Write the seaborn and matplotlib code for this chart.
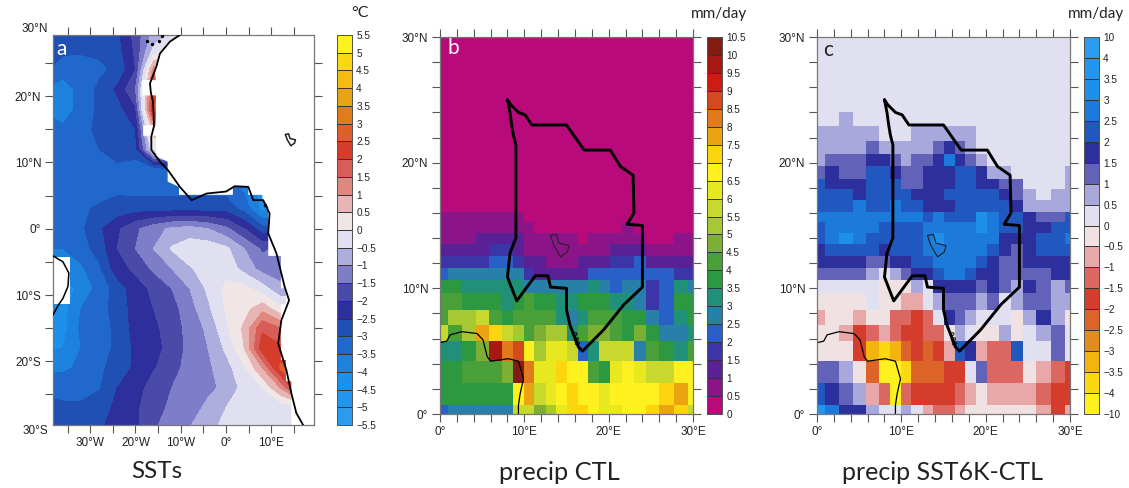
import numpy as np
import seaborn as sns
import matplotlib.pyplot as plt
from matplotlib.colors import BoundaryNorm, ListedColormap

# --- panel a: SST change on a coarse lon/lat grid
sst_lon = [-39, -36, -32, -28, -24, -20, -16, -12, -8, -4, 0, 4, 8, 12, 16, 20]
sst_lat = [30, 27, 24, 21, 18, 15, 12, 9, 6, 3, 0, -3, -6, -9, -12, -15, -18, -21, -24, -27, -30]
sst = [
    [-2.6, -2.6, -2.6, -2.6, -2.6, -1.8, -0.9, -0.5, -0.5, -0.5, -0.5, -0.5, -0.5, -0.5, -0.5, -0.5],
    [-2.8, -2.9, -2.9, -2.9, -2.7, -1.9, -0.4, -0.2, -0.2, -0.2, -0.2, -0.2, -0.2, -0.2, -0.2, -0.2],
    [-3.0, -3.25, -3.3, -3.1, -2.9, -2.0, 1.2, 2.0, 2.0, 2.0, 2.0, 2.0, 2.0, 2.0, 2.0, 2.0],
    [-3.6, -3.8, -3.3, -2.9, -2.4, -1.5, 2.0, 3.0, 3.0, 3.0, 3.0, 3.0, 3.0, 3.0, 3.0, 3.0],
    [-3.6, -3.8, -3.3, -2.9, -2.7, -2.1, 2.6, 3.0, 3.0, 3.0, 3.0, 3.0, 3.0, 3.0, 3.0, 3.0],
    [-3.3, -3.4, -3.3, -2.8, -2.6, -2.5, 0.8, 1.0, 1.0, 1.0, 1.0, 1.0, 1.0, 1.0, 1.0, 1.0],
    [-3.3, -3.3, -3.3, -3.0, -2.8, -2.7, 0.0, 0.5, 0.5, 0.5, 0.5, 0.5, 0.5, 0.5, 0.5, 0.5],
    [-3.4, -3.4, -3.4, -3.2, -3.1, -3.3, -3.3, -3.0, -3.0, -3.0, -3.0, -3.0, -3.0, -3.0, -3.0, -3.0],
    [-3.4, -3.4, -3.4, -3.3, -3.1, -3.2, -3.2, -3.2, -3.2, -3.2, -3.2, -3.6, -4.2, -4.2, -4.2, -4.2],
    [-3.3, -3.3, -3.1, -2.9, -2.8, -2.7, -2.7, -2.7, -2.7, -2.7, -2.7, -3.2, -4.2, -4.0, -4.0, -4.0],
    [-3.4, -3.3, -3.1, -2.6, -2.1, -1.6, -1.2, -0.9, -0.8, -1.0, -1.4, -2.0, -2.8, -3.0, -3.0, -3.0],
    [-3.5, -3.5, -3.2, -2.8, -2.0, -1.5, -1.0, -0.45, -0.2, -0.2, -0.4, -1.0, -1.6, -1.4, -1.4, -1.4],
    [-3.9, -3.9, -3.6, -3.1, -2.2, -1.9, -1.4, -1.0, -0.55, -0.3, -0.15, -0.7, -1.2, -1.2, -1.2, -1.2],
    [-4.2, -4.2, -3.9, -3.3, -2.8, -2.2, -1.9, -1.5, -1.0, -0.4, 0.1, 0.15, -0.3, -0.9, -1.0, -1.0],
    [-4.0, -4.2, -3.5, -3.2, -2.8, -2.3, -2.0, -1.7, -1.2, -0.6, 0.05, 0.3, 0.8, 0.1, 0.1, 0.1],
    [-4.3, -4.2, -3.4, -3.2, -2.9, -2.3, -2.1, -1.8, -1.3, -0.9, -0.1, 0.6, 1.9, 1.5, 1.0, 1.0],
    [-4.1, -4.0, -3.5, -3.2, -2.9, -2.4, -2.1, -1.9, -1.3, -1.0, -0.4, 0.5, 2.3, 2.1, 2.0, 2.0],
    [-3.6, -3.6, -3.4, -3.1, -2.8, -2.4, -2.05, -1.7, -1.3, -1.1, -0.7, -0.1, 1.0, 2.6, 3.0, 3.0],
    [-3.1, -3.2, -3.2, -3.05, -2.5, -2.2, -1.8, -1.5, -1.2, -1.1, -0.9, -0.3, 0.0, 1.0, 2.5, 2.5],
    [-2.9, -2.9, -2.9, -2.7, -2.4, -2.1, -1.7, -1.4, -1.2, -0.9, -0.5, -0.3, -0.3, -0.4, -0.2, -0.2],
    [-2.9, -2.8, -2.8, -2.6, -2.2, -2.1, -1.6, -1.1, -1.0, -0.6, -0.4, -0.3, -0.3, -0.4, -0.2, -0.2],
]
sst_levels = [-5.5, -5, -4.5, -4, -3.5, -3, -2.5, -2, -1.5, -1, -0.5, 0, 0.5, 1, 1.5, 2, 2.5, 3, 3.5, 4, 4.5, 5, 5.5]
sst_colors = ['#2b9bef', '#2296ee', '#1d90ea', '#1c82de', '#2068cc', '#2050b4', '#2c2f9c', '#4a4aa8', '#7e7ec8',
              '#aeaede', '#e0e0f0', '#f0e6e6', '#e8b5b5', '#e08880', '#d85c58', '#d43c2c', '#dc6028', '#e07c1c',
              '#e8a414', '#f4bc10', '#fcd810', '#fff020']

# coast and the blocky edge of the ocean mask (lon, lat)
mask_lon = [-9.9, -12.8, -15, -15.7, -15.5, -18.5, -18.5, -15.5, -15.5, -18.3, -18.3, -15.5, -15.4, -12.9, -12.9, -10.4,
            -10.4, 1.5, 1.5, 4.9, 4.9, 8, 8, 9.3, 9.3, 12.1, 12.1, 13.2, 13.2, 12.1, 12.1, 13.2, 13.2, 14.4, 14.4, 19.4, 19.4]
mask_lat = [29.2, 28, 26.2, 23.9, 22.4, 22.4, 20.1, 20.1, 15.6, 15.6, 14, 14, 10.9, 10.1, 7.1, 6.3,
            5.1, 5.1, 6.3, 6.4, 5.1, 5.1, 4.3, 3.3, -4.1, -4.1, -9, -9, -11.4, -11.4, -19.8, -19.8, -23, -23, -29.6, -29.6, 29.2]
coast_lon = [-10.2, -12.4, -14.6, -15.4, -16.8, -16.6, -16.1, -15.9, -16.5, -16.5, -14.6, -12.8, -10.2, -7.6, -4.3, -0.0,
             1.9, 4.9, 6, 8.2, 9.6, 9.3, 11.1, 12.9, 13.9, 12.2, 11.5, 13.3, 14.4, 15.5, 17]
coast_lat = [29.2, 28.2, 26.4, 24.4, 21.9, 20.5, 19, 15.5, 13.9, 11.9, 10.1, 8.8, 6.3, 4.3, 5.3, 5.6,
             6.4, 6.3, 4.3, 4.3, 2.3, -0.7, -3.7, -8.7, -10.8, -13.8, -17.3, -21.3, -24.8, -27.8, -29.6]
brazil_lon = [-38.2, -36, -34.7, -34.9, -36, -37, -38.2]
brazil_lat = [-4.1, -5, -6.7, -8.7, -10.5, -11.5, -13]
island_lon = [-17.4, -16.4, -14.8, -14.2, 8.6]
island_lat = [28.3, 27.9, 28.3, 29.0, 3.5]
chad_lon = [13.1, 13.8, 14.1, 15.3, 15.1, 14.3, 13.5, 13.1]
chad_lat = [14.2, 14.3, 13.6, 13.4, 12.9, 12.5, 13.4, 14.2]

# --- panels b and c: stretched model grid, edges in degrees
lon_edges = [0, 0.95, 2.65, 4.3, 5.8, 7.26, 8.65, 10, 11.2, 12.6, 13.85, 15.1, 16.35, 17.5, 18.9, 20.2, 21.6, 23, 24.4, 26, 27.7, 29.4, 30]
lat_edges = [0, 0.72, 2.49, 4.16, 5.75, 7.08, 8.32, 9.6, 10.65, 11.6, 12.6, 13.5, 14.4, 15.3, 16.1, 17, 17.9, 18.7, 19.7, 20.7, 21.65, 22.85, 24, 30]

dry = [0.25] * 22
precip_ctl = [
    [2.25, 2.75, 2.75, 2.75, 2.75, 2.75, 5.75, 5.75, 4.75, 5.25, 6.25, 7.25, 7.25, 6.75, 6.25, 6.25, 6.75, 6.75, 7.25, 7.75, 7.25, 5.75],
    [3.75, 3.75, 3.75, 3.75, 3.75, 3.75, 6.75, 7.75, 5.75, 6.25, 6.75, 7.25, 6.75, 6.75, 6.25, 6.75, 6.75, 6.75, 6.75, 7.25, 7.75, 6.75],
    [3.75, 3.75, 4.25, 4.25, 4.25, 4.75, 10.25, 8.25, 6.25, 6.25, 7.25, 6.75, 6.75, 4.25, 3.75, 6.25, 6.75, 6.25, 5.75, 5.75, 6.75, 6.75],
    [3.25, 3.25, 3.75, 4.75, 9.75, 8.25, 8.75, 6.75, 5.25, 6.25, 6.25, 5.75, 2.25, 3.25, 5.75, 5.75, 5.75, 2.75, 4.25, 3.75, 3.25, 4.25],
    [5.75, 4.25, 5.25, 7.75, 7.25, 5.75, 5.25, 4.25, 4.75, 5.25, 5.25, 3.25, 4.25, 4.75, 4.75, 4.25, 3.75, 4.75, 3.75, 2.75, 2.75, 3.25],
    [4.25, 5.25, 5.25, 5.75, 4.25, 3.75, 4.25, 4.25, 4.25, 4.25, 3.25, 2.75, 3.25, 4.25, 4.25, 4.25, 3.75, 3.75, 2.75, 2.25, 3.25, 3.75],
    [4.25, 4.25, 3.75, 3.75, 3.75, 3.25, 3.75, 4.25, 3.75, 3.75, 3.25, 3.25, 3.75, 3.75, 3.75, 3.25, 3.25, 2.75, 1.75, 2.25, 3.75, 3.75],
    [3.75, 3.75, 3.25, 3.25, 3.25, 3.25, 3.25, 2.75, 2.75, 2.75, 2.75, 2.75, 2.75, 3.25, 2.75, 2.25, 2.75, 2.75, 1.75, 2.25, 3.25, 2.75],
    [2.25, 2.75, 2.75, 2.75, 2.75, 2.75, 2.75, 1.75, 1.25, 1.25, 1.25, 1.25, 1.25, 2.25, 2.25, 2.25, 2.25, 2.25, 2.25, 2.25, 1.75, 1.75],
    [1.75, 1.75, 1.75, 1.75, 2.25, 2.25, 1.75, 1.25, 1.25, 0.75, 0.75, 0.75, 1.25, 1.25, 1.25, 1.75, 1.75, 2.25, 1.25, 1.25, 1.25, 1.25],
    [1.25, 1.25, 1.25, 1.25, 1.75, 1.75, 1.25, 0.75, 0.75, 0.75, 0.75, 0.75, 0.75, 0.75, 0.75, 1.25, 1.25, 1.25, 0.75, 0.75, 0.75, 0.75],
    [0.75, 0.75, 0.75, 1.25, 1.25, 1.25, 1.25, 0.75, 0.75, 0.75, 0.75, 0.75, 0.25, 0.75, 0.75, 0.75, 0.75, 0.75, 0.25, 0.25, 0.75, 0.75],
    [0.75, 0.75, 0.75, 0.75, 0.75, 0.75, 0.75, 0.75, 0.25, 0.25, 0.25, 0.25, 0.25, 0.25, 0.25, 0.25, 0.75, 0.25, 0.25, 0.25, 0.25, 0.25],
    [0.75, 0.75, 0.75, 0.75, 0.75, 0.75, 0.75, 0.25, 0.25, 0.25, 0.25, 0.25, 0.25, 0.25, 0.25, 0.25, 0.25, 0.25, 0.25, 0.25, 0.25, 0.25],
    dry, dry, dry, dry, dry, dry, dry, dry, dry,
]
ctl_levels = [0, 0.5, 1, 1.5, 2, 2.5, 3, 3.5, 4, 4.5, 5, 5.5, 6, 6.5, 7, 7.5, 8, 8.5, 9, 9.5, 10, 10.5]
ctl_colors = ['#b80a7a', '#8a1488', '#5a2096', '#3c35a8', '#2860c8', '#2880a8', '#209078', '#2c9840', '#4aa038', '#7cb034',
              '#a8c832', '#c8d82c', '#e8e820', '#fff020', '#fcd410', '#eaa412', '#e07a1c', '#d44a1c', '#cc1c14', '#a81812', '#841c14']

precip_diff = [
    [3.75, 2.75, 1.75, 1.75, 0.75, 0.25, 0.25, 0.75, 0.25, -0.75, -1.25, -1.25, -0.75, -0.25, -0.25, -0.25, -0.25, -0.25, -0.25, -0.75, -1.75, -0.75],
    [2.25, 1.75, 1.25, 0.75, -0.75, -1.25, -7, -1.25, -1.75, -1.75, -1.75, -1.75, -1.25, -0.75, -0.25, -0.75, -0.75, -0.75, -0.75, -1.25, -1.75, -1.75],
    [1.25, 1.25, 0.75, -0.25, -2.25, -7, -7, -3.75, -2.25, -2.25, -2.25, -1.75, -1.75, 0.25, 1.25, -1.25, -1.25, -1.25, -0.25, -0.75, -1.25, -1.75],
    [-0.25, -0.25, -0.25, -1.75, -3.25, -3.75, -3.25, -2.25, -1.75, -2.25, -1.75, -0.75, 2.25, 1.75, -0.75, -1.25, -1.25, 2.25, 0.25, 0.25, 1.25, 0.25],
    [-0.25, -0.25, -0.75, -1.75, -1.25, -0.75, -1.25, -1.75, -1.75, -1.25, -1.25, -0.25, 0.75, 0.25, -0.25, -0.25, 0.75, -0.25, 0.25, 0.75, 1.25, 0.25],
    [-0.75, -0.25, -0.25, -0.75, -0.25, -0.25, -1.25, -1.25, -1.75, -1.25, 0.25, 1.75, 1.25, 0.75, 0.25, 0.25, 0.25, -0.25, 0.75, 1.75, 0.75, -0.25],
    [-0.25, -0.25, -0.25, -0.25, 0.25, -0.25, -0.25, -0.75, -0.75, 0.25, 0.75, 1.25, 1.25, 1.25, 0.75, 1.25, 0.25, 0.75, 1.25, 1.25, 0.75, 0.75],
    [0.25, 0.25, 0.25, 0.25, 0.25, -0.25, -0.25, -0.25, 0.75, 0.25, 1.75, 1.75, 1.75, 1.75, 1.25, 1.75, 1.25, 0.75, 1.75, 1.25, 0.75, 1.25],
    [1.25, 1.25, 1.25, 1.25, 0.75, 0.25, 0.75, 1.25, 1.75, 1.75, 2.25, 2.75, 2.75, 2.25, 1.75, 1.75, 1.25, 1.25, 1.25, 1.25, 1.75, 1.75],
    [1.75, 1.75, 1.75, 1.75, 1.25, 1.25, 1.75, 1.75, 2.25, 2.25, 2.75, 2.75, 2.75, 2.75, 2.25, 1.75, 1.25, 1.25, 1.75, 1.75, 1.75, 1.75],
    [1.75, 2.25, 2.25, 2.25, 2.25, 1.75, 2.25, 2.25, 2.25, 2.75, 2.75, 2.75, 2.75, 2.75, 2.75, 2.25, 1.75, 1.25, 1.75, 2.25, 2.25, 2.25],
    [2.25, 2.75, 3.25, 2.75, 2.25, 2.25, 2.25, 2.25, 2.25, 2.75, 3.25, 2.75, 2.75, 2.75, 2.75, 2.75, 1.75, 1.75, 1.75, 2.25, 2.25, 2.75],
    [2.25, 2.75, 2.75, 2.75, 2.75, 2.25, 2.25, 2.25, 2.25, 2.75, 2.75, 2.75, 2.75, 2.75, 3.25, 2.75, 2.25, 2.25, 1.75, 1.75, 2.25, 2.25],
    [2.75, 2.75, 2.75, 2.75, 2.75, 2.75, 2.75, 2.75, 2.75, 2.25, 2.75, 2.25, 2.25, 2.25, 3.25, 2.75, 2.25, 2.25, 1.75, 1.25, 1.25, 2.25],
    [2.25, 2.25, 2.25, 2.75, 2.25, 2.25, 2.75, 2.25, 2.25, 1.75, 1.75, 1.75, 2.25, 2.25, 2.25, 2.25, 2.25, 1.75, 0.75, 0.75, 0.75, 0.75],
    [2.25, 2.25, 2.25, 1.75, 2.25, 2.25, 2.25, 2.25, 1.75, 1.75, 1.75, 2.25, 2.25, 2.25, 2.25, 2.25, 1.75, 1.25, 0.75, 0.25, 0.75, 0.75],
    [2.25, 1.75, 1.75, 1.75, 2.25, 2.25, 2.25, 1.25, 1.25, 1.75, 1.75, 1.75, 2.25, 2.25, 1.75, 1.75, 1.25, 1.25, 0.25, 0.25, 0.25, 0.75],
    [1.25, 1.75, 1.25, 1.25, 2.25, 2.25, 1.75, 1.25, 1.25, 1.75, 1.75, 1.75, 2.25, 2.25, 1.75, 0.75, 0.75, 0.25, 0.25, 0.25, 0.25, 0.75],
    [0.75, 1.25, 1.25, 1.25, 1.75, 1.75, 1.25, 0.75, 1.25, 1.25, 1.75, 2.75, 1.75, 1.25, 0.75, 0.25, 0.25, 0.25, 0.25, 0.25, 0.25, 0.25],
    [0.75, 0.75, 0.75, 0.75, 1.25, 0.75, 0.75, 0.75, 0.75, 0.75, 1.25, 1.75, 1.25, 0.75, 0.25, 0.25, 0.25, 0.25, 0.25, 0.25, 0.25, 0.25],
    [0.75, 0.75, 0.75, 0.75, 0.75, 0.25, 0.25, 0.25, 0.75, 0.75, 0.75, 0.75, 0.75, 0.75, 0.25, 0.25, 0.25, 0.25, 0.25, 0.25, 0.25, 0.25],
    [0.25, 0.25, 0.75, 0.25, 0.25, 0.25, 0.25, 0.25, 0.25, 0.25, 0.25, 0.25, 0.25, 0.25, 0.25, 0.25, 0.25, 0.25, 0.25, 0.25, 0.25, 0.25],
    dry,
]
diff_levels = [-10, -4, -3.5, -3, -2.5, -2, -1.5, -1, -0.5, 0, 0.5, 1, 1.5, 2, 2.5, 3, 3.5, 4, 10]
diff_colors = ['#fff020', '#fcd810', '#f4b410', '#e28c1c', '#dc6428', '#d43c2c', '#dc6660', '#e8a8a8', '#f0e2e2',
               '#e0e0f0', '#a8a8dc', '#6262b8', '#2c2f9c', '#2058c0', '#1c7ada', '#1d90ea', '#2296ee', '#2b9bef']

# region outline and thin coastline for the two precip maps
basin_lon = [8, 8.4, 9.3, 10.1, 10.9, 15, 17.1, 20.2, 21.4, 22.9, 23, 22.2, 24, 24, 21.8, 19.4, 16.9, 16.4, 15.4, 15, 15, 13.1, 12.8,
             11.3, 9.1, 8, 8.3, 9, 9, 8.7, 8.5, 8.3, 8]
basin_lat = [25, 24.6, 24, 23.8, 23, 23, 21, 21, 19.7, 19, 16, 15.1, 15, 10.1, 8.7, 6.7, 5, 5.35, 7.1, 8.3, 10, 10.1, 11,
             11, 9, 10.9, 12.8, 14, 21.4, 22.2, 23, 24, 25]
guinea_lon = [0, 0.8, 1.2, 2.6, 4.4, 5.1, 5.6, 6, 8.1, 9.3, 9.9, 9.5, 9.3, 9.3]
guinea_lat = [5.67, 5.8, 6.3, 6.55, 6.4, 5.9, 4.56, 4.2, 4.4, 4.2, 2.8, 1.6, 0.7, 0]

sns.set_theme(style='white')
plt.rcParams['font.family'] = ['Liberation Sans', 'DejaVu Sans']
plt.rcParams['axes.edgecolor'] = '#777777'
plt.rcParams['xtick.color'] = '#555555'
plt.rcParams['ytick.color'] = '#555555'
plt.rcParams['xtick.labelcolor'] = '#222222'
plt.rcParams['ytick.labelcolor'] = '#222222'

W, H = 1129, 488
fig = plt.figure(figsize=(W / 100, H / 100), dpi=100)


def box(l, t, r, b):
    return fig.add_axes([l / W, 1 - b / H, (r - l) / W, (b - t) / H])


def all_ticks(ax):
    ax.tick_params(axis='both', which='both', direction='out', length=5.5, width=0.8, pad=3, labelsize=8.5,
                   top=True, right=True, bottom=True, left=True)
    for s in ax.spines.values():
        s.set_visible(True)
        s.set_color('#777777')
        s.set_linewidth(0.9)


def style_cbar(cax, levels):
    cax.set_yticks(levels)
    cax.set_yticklabels([f'{v:g}'.replace('-', '\u2212') for v in levels])
    cax.tick_params(length=0, pad=3, labelsize=7.2, right=True, left=False, labelcolor='#222222')
    for s in cax.spines.values():
        s.set_visible(True)
        s.set_color('#555555')
        s.set_linewidth(0.7)


def draw_precip(ax, cax, rows, levels, colors):
    # heatmap on a fine regular grid, so the stretched cells keep their real sizes
    lon_fine = (np.arange(300) + 0.5) * 0.1
    lat_fine = 30 - (np.arange(300) + 0.5) * 0.1
    ci = np.searchsorted(lon_edges, lon_fine) - 1
    ri = np.searchsorted(lat_edges, lat_fine) - 1
    field = np.array(rows)[ri][:, ci]
    norm = BoundaryNorm(levels, len(colors))
    sns.heatmap(field, ax=ax, cbar_ax=cax, cmap=ListedColormap(colors), norm=norm, xticklabels=False, yticklabels=False,
                cbar_kws={'drawedges': True, 'spacing': 'uniform'})
    style_cbar(cax, levels)
    cb = ax.collections[0].colorbar
    cb.dividers.set_color('#333333')
    cb.dividers.set_linewidth(0.7)

    def cx(v):
        return np.array(v) * 10

    def cy(v):
        return (30 - np.array(v)) * 10

    ax.plot(cx(basin_lon), cy(basin_lat), color='black', lw=2.1, solid_joinstyle='round')
    ax.plot(cx(guinea_lon), cy(guinea_lat), color='black', lw=0.9)
    ax.plot(cx(chad_lon), cy(chad_lat), color='#222222', lw=0.8)
    ax.text(cx(15.95), cy(6.0), '0.80', fontsize=5.5, fontweight='bold', rotation=-75, ha='center', va='center', color='black')
    ax.set_xticks(cx(np.arange(0, 31, 2)))
    ax.set_yticks(cy(np.arange(0, 31, 2)))
    ax.set_xticklabels(['0°' if v == 0 else f'{v}°E' if v % 10 == 0 else '' for v in range(0, 31, 2)], rotation=0)
    ax.set_yticklabels(['0°' if v == 0 else f'{v}°N' if v % 10 == 0 else '' for v in range(0, 31, 2)], rotation=0)
    all_ticks(ax)


# panel a
ax_a = box(53, 35, 314, 425)
cax_a = box(337, 35, 352, 425)
cs = ax_a.contourf(sst_lon, sst_lat, np.array(sst), levels=sst_levels, colors=sst_colors)
ax_a.fill(mask_lon, mask_lat, color='white', lw=0, zorder=2)
ax_a.fill([-38.2, -34.5, -34.5, -38.2], [-4.2, -4.2, -11.4, -11.4], color='white', lw=0, zorder=2)
ax_a.plot(coast_lon, coast_lat, color='black', lw=1.3, zorder=3)
ax_a.plot(brazil_lon, brazil_lat, color='black', lw=1.1, zorder=3)
ax_a.plot(chad_lon, chad_lat, color='#222222', lw=1.1, zorder=3)
ax_a.scatter(island_lon, island_lat, s=6, color='black', lw=0, zorder=3)
ax_a.set_xlim(-38.2, 19.4)
ax_a.set_ylim(-29.6, 29.2)
ax_a.set_xticks(np.arange(-35, 16, 5))
ax_a.set_xticklabels(['', '30°W', '', '20°W', '', '10°W', '', '0°', '', '10°E', ''])
ax_a.set_yticks(np.arange(-25, 26, 5))
ax_a.set_yticklabels(['', '20°S', '', '10°S', '', '0°', '', '10°N', '', '20°N', ''])
all_ticks(ax_a)
ax_a.text(-0.02, 1.0, '30°N', transform=ax_a.transAxes, ha='right', va='bottom', fontsize=8.5, color='#222222')
ax_a.text(-0.02, 0.0, '30°S', transform=ax_a.transAxes, ha='right', va='top', fontsize=8.5, color='#222222')
ax_a.text(0.012, 0.965, 'a', transform=ax_a.transAxes, color='white', fontsize=15, va='center', family='Lato', zorder=4)
cb_a = fig.colorbar(cs, cax=cax_a, drawedges=True)
style_cbar(cax_a, sst_levels)
cb_a.dividers.set_color('#333333')
cb_a.dividers.set_linewidth(0.7)
fig.text(360 / W, 1 - 13 / H, '°C', fontsize=11.5, color='#222222', ha='center', va='center', family='Lato')
fig.text(157 / W, 1 - 472 / H, 'SSTs', fontsize=17.5, color='#222222', ha='center', va='center', family='Lato')

# panel b
ax_b = box(440, 37, 693, 414)
cax_b = box(707, 37, 722, 414)
draw_precip(ax_b, cax_b, precip_ctl, ctl_levels, ctl_colors)
ax_b.text(0.03, 0.97, 'b', transform=ax_b.transAxes, color='white', fontsize=15, va='center', family='Lato')
fig.text(719 / W, 1 - 14 / H, 'mm/day', fontsize=11, color='#222222', ha='center', va='center', family='Lato')
fig.text(559 / W, 1 - 472 / H, 'precip CTL', fontsize=18.3, color='#222222', ha='center', va='center', family='Lato')

# panel c
ax_c = box(817, 37, 1070, 414)
cax_c = box(1084, 37, 1099, 414)
draw_precip(ax_c, cax_c, precip_diff, diff_levels, diff_colors)
ax_c.text(0.025, 0.965, 'c', transform=ax_c.transAxes, color='#222222', fontsize=15, va='center', family='Lato')
fig.text(1096 / W, 1 - 14 / H, 'mm/day', fontsize=11, color='#222222', ha='center', va='center', family='Lato')
fig.text(943 / W, 1 - 472 / H, 'precip SST6K-CTL', fontsize=18, color='#222222', ha='center', va='center', family='Lato')

fig.savefig('out.png', dpi=100)
